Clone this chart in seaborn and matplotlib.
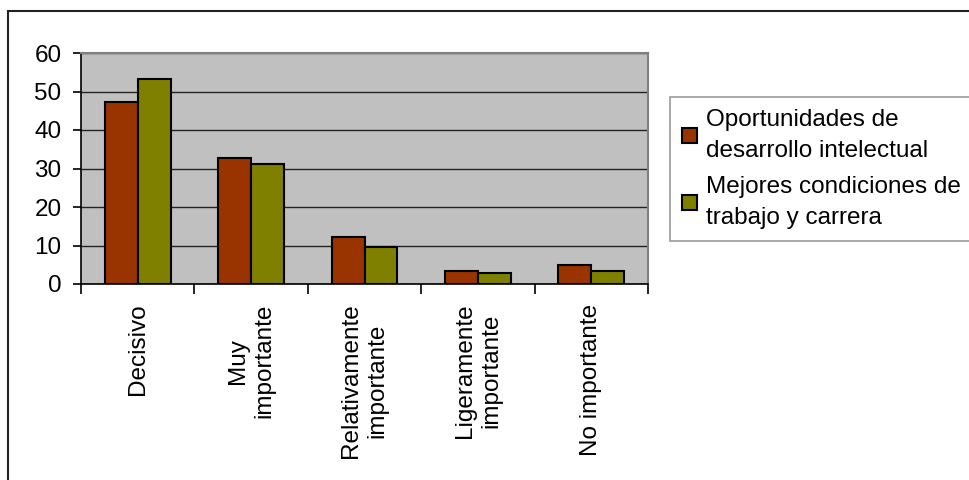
import pandas as pd
import seaborn as sns
import matplotlib.pyplot as plt
from matplotlib.patches import Rectangle

# data
categorias = ['Decisivo', 'Muy\nimportante', 'Relativamente\nimportante',
              'Ligeramente\nimportante', 'No importante']
oportunidades = [47.4, 32.7, 12.3, 3.4, 4.9]
mejores = [53.2, 31.1, 9.6, 2.8, 3.4]
series = ['Oportunidades de\ndesarrollo intelectual',
          'Mejores condiciones de\ntrabajo y carrera']
colores = ['#993300', '#808000']
yticks = [0, 10, 20, 30, 40, 50, 60]

df = pd.DataFrame({
    'cat': categorias * 2,
    'val': oportunidades + mejores,
    'serie': [series[0]] * len(categorias) + [series[1]] * len(categorias),
})

sns.set_style('white')
plt.rcParams['font.family'] = ['Liberation Sans', 'DejaVu Sans']
plt.rcParams['text.color'] = 'black'
plt.rcParams['xtick.color'] = 'black'
plt.rcParams['ytick.color'] = 'black'
fs = 17.5

fig = plt.figure(figsize=(9.69, 4.8), dpi=100)
ax = fig.add_axes([81 / 969, 196 / 480, 567 / 969, 231 / 480])
ax.set_facecolor('#C0C0C0')

sns.barplot(data=df, x='cat', y='val', hue='serie', palette=colores,
            saturation=1, edgecolor='black', linewidth=1.5, width=0.58,
            ax=ax, zorder=3)

ax.set_ylim(0, 60)
ax.set_xlim(-0.5, 4.5)
ax.set_yticks(yticks)
ax.yaxis.grid(True, color='#222222', linewidth=1, zorder=0)
ax.set_axisbelow(True)
ax.set(xlabel='', ylabel='')

for s in ['top', 'right']:
    ax.spines[s].set_color('#808080')
    ax.spines[s].set_linewidth(1.5)
for s in ['left', 'bottom']:
    ax.spines[s].set_color('black')
    ax.spines[s].set_linewidth(1.2)

ax.tick_params(axis='y', direction='out', length=6, width=1.2, color='black',
               labelsize=fs, pad=8, left=True, labelcolor='black')
ax.set_xticks(range(len(categorias)))
ax.set_xticklabels(categorias, rotation=90, fontsize=fs, linespacing=1.25,
                   color='black')
ax.tick_params(axis='x', which='major', length=0, pad=14)
ax.set_xticks([i - 0.5 for i in range(len(categorias) + 1)], minor=True)
ax.tick_params(axis='x', which='minor', direction='out', length=7, width=1.2,
               color='black', bottom=True)

ax.get_legend().remove()
handles = [Rectangle((0, 0), 1, 1, facecolor=c, edgecolor='black', linewidth=1.5)
           for c in colores]
leg = fig.legend(handles, series, loc='upper left',
                 bbox_to_anchor=(670 / 969, 1 - 97 / 480), fontsize=fs,
                 frameon=True, fancybox=False, handlelength=0.6,
                 handleheight=0.6, handletextpad=0.4, borderpad=0.5,
                 labelspacing=0.6, borderaxespad=0)
leg.get_frame().set_edgecolor('#808080')
leg.get_frame().set_linewidth(1.2)
for t in leg.get_texts():
    t.set_linespacing(1.5)
    t.set_color('black')

# outer chart border (cut off at right and bottom)
fig.patches.append(Rectangle((8 / 969, -0.1), 1.2, 1 - 11 / 480 + 0.1,
                             transform=fig.transFigure, fill=False,
                             edgecolor='#222222', linewidth=1.5))

fig.savefig('out.png', dpi=100)
plt.close()
